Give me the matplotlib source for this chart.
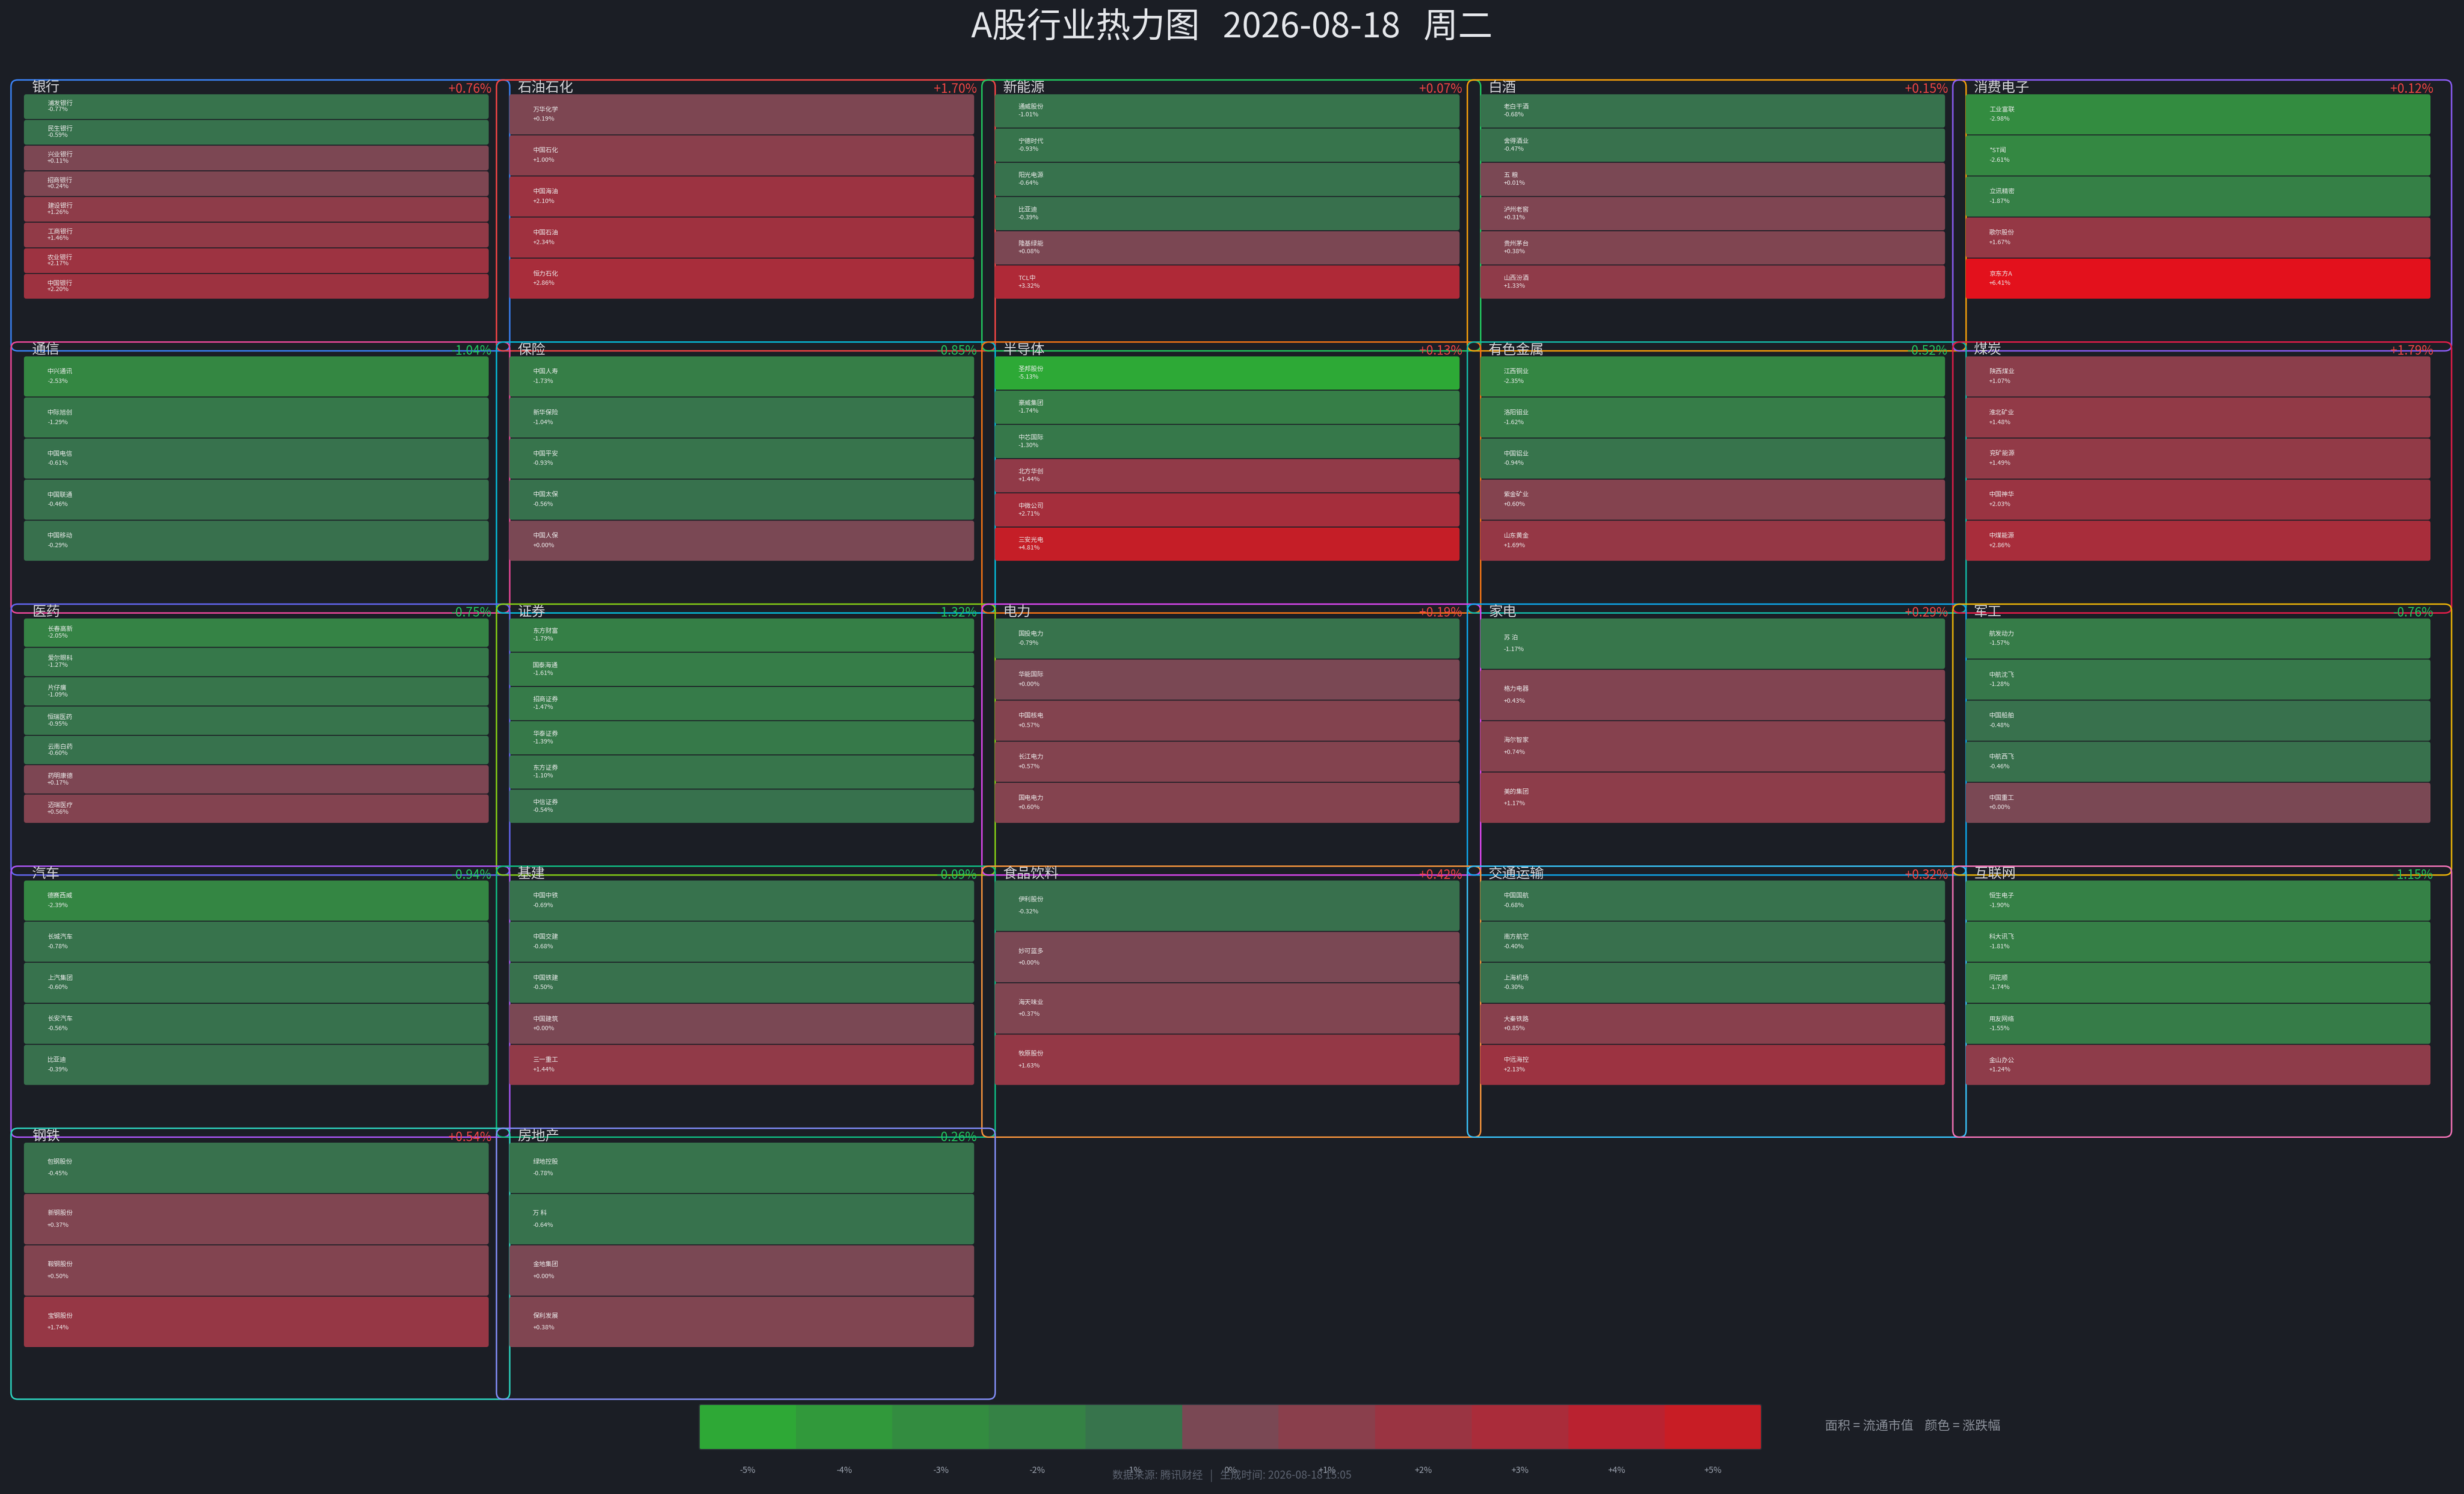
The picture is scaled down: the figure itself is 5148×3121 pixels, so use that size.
import numpy as np
import matplotlib
matplotlib.use('Agg')
import matplotlib.pyplot as plt
import matplotlib.colors as mcolors
from matplotlib.patches import FancyBboxPatch, Rectangle

plt.rcParams['font.family'] = ['Noto Sans CJK SC', 'DejaVu Sans']

# ---- data ----
sectors = ['银行', '石油石化', '新能源', '白酒', '消费电子',
           '通信', '保险', '半导体', '有色金属', '煤炭',
           '医药', '证券', '电力', '家电', '军工',
           '汽车', '基建', '食品饮料', '交通运输', '互联网',
           '钢铁', '房地产']

bank = ['浦发银行', '民生银行', '兴业银行', '招商银行', '建设银行', '工商银行', '农业银行', '中国银行']
bank_pct = [-0.77, -0.59, 0.11, 0.24, 1.26, 1.46, 2.17, 2.20]
oil = ['万华化学', '中国石化', '中国海油', '中国石油', '恒力石化']
oil_pct = [0.19, 1.00, 2.10, 2.34, 2.86]
energy = ['通威股份', '宁德时代', '阳光电源', '比亚迪', '隆基绿能', 'TCL中']
energy_pct = [-1.01, -0.93, -0.64, -0.39, 0.08, 3.32]
liquor = ['老白干酒', '舍得酒业', '五 粮', '泸州老窖', '贵州茅台', '山西汾酒']
liquor_pct = [-0.68, -0.47, 0.01, 0.31, 0.38, 1.33]
elec = ['工业富联', '*ST闻', '立讯精密', '歌尔股份', '京东方A']
elec_pct = [-2.98, -2.61, -1.87, 1.67, 6.41]
telecom = ['中兴通讯', '中际旭创', '中国电信', '中国联通', '中国移动']
telecom_pct = [-2.53, -1.29, -0.61, -0.46, -0.29]
insure = ['中国人寿', '新华保险', '中国平安', '中国太保', '中国人保']
insure_pct = [-1.73, -1.04, -0.93, -0.56, 0.00]
semi = ['圣邦股份', '豪威集团', '中芯国际', '北方华创', '中微公司', '三安光电']
semi_pct = [-5.13, -1.74, -1.30, 1.44, 2.71, 4.81]
metal = ['江西铜业', '洛阳钼业', '中国铝业', '紫金矿业', '山东黄金']
metal_pct = [-2.35, -1.62, -0.94, 0.60, 1.69]
coal = ['陕西煤业', '淮北矿业', '兖矿能源', '中国神华', '中煤能源']
coal_pct = [1.07, 1.48, 1.49, 2.03, 2.86]
pharma = ['长春高新', '爱尔眼科', '片仔癀', '恒瑞医药', '云南白药', '药明康德', '迈瑞医疗']
pharma_pct = [-2.05, -1.27, -1.09, -0.95, -0.60, 0.17, 0.56]
broker = ['东方财富', '国泰海通', '招商证券', '华泰证券', '东方证券', '中信证券']
broker_pct = [-1.79, -1.61, -1.47, -1.39, -1.10, -0.54]
power = ['国投电力', '华能国际', '中国核电', '长江电力', '国电电力']
power_pct = [-0.79, 0.00, 0.57, 0.57, 0.60]
appliance = ['苏 泊', '格力电器', '海尔智家', '美的集团']
appliance_pct = [-1.17, 0.43, 0.74, 1.17]
defense = ['航发动力', '中航沈飞', '中国船舶', '中航西飞', '中国重工']
defense_pct = [-1.57, -1.28, -0.48, -0.46, 0.00]
auto = ['德赛西威', '长城汽车', '上汽集团', '长安汽车', '比亚迪']
auto_pct = [-2.39, -0.78, -0.60, -0.56, -0.39]
infra = ['中国中铁', '中国交建', '中国铁建', '中国建筑', '三一重工']
infra_pct = [-0.69, -0.68, -0.50, 0.00, 1.44]
food = ['伊利股份', '妙可蓝多', '海天味业', '牧原股份']
food_pct = [-0.32, 0.00, 0.37, 1.63]
transport = ['中国国航', '南方航空', '上海机场', '大秦铁路', '中远海控']
transport_pct = [-0.68, -0.40, -0.30, 0.85, 2.13]
internet = ['恒生电子', '科大讯飞', '同花顺', '用友网络', '金山办公']
internet_pct = [-1.90, -1.81, -1.74, -1.55, 1.24]
steel = ['包钢股份', '新钢股份', '鞍钢股份', '宝钢股份']
steel_pct = [-0.45, 0.37, 0.50, 1.74]
estate = ['绿地控股', '万 科', '金地集团', '保利发展']
estate_pct = [-0.78, -0.64, 0.00, 0.38]

names = [bank, oil, energy, liquor, elec, telecom, insure, semi, metal, coal,
         pharma, broker, power, appliance, defense, auto, infra, food, transport,
         internet, steel, estate]
pcts = [bank_pct, oil_pct, energy_pct, liquor_pct, elec_pct, telecom_pct, insure_pct,
        semi_pct, metal_pct, coal_pct, pharma_pct, broker_pct, power_pct, appliance_pct,
        defense_pct, auto_pct, infra_pct, food_pct, transport_pct, internet_pct,
        steel_pct, estate_pct]

scale_ticks = [-5, -4, -3, -2, -1, 0, 1, 2, 3, 4, 5]

# ---- style ----
bg = '#1b1e25'
border_colors = ['#3b82f6', '#ef4444', '#22c55e', '#f59e0b', '#8b5cf6',
                 '#ec4899', '#06b6d4', '#f97316', '#14b8a6', '#e11d48',
                 '#6366f1', '#84cc16', '#d946ef', '#0ea5e9', '#eab308',
                 '#a855f7', '#10b981', '#fb923c', '#38bdf8', '#f472b6',
                 '#2dd4bf', '#818cf8']

neg_v = [-6, -5, -4, -3, -2, -1, 0]
neg_c = ['#2aae34', '#2ea836', '#31993b', '#338c40', '#358245', '#37744c', '#386e4e']
pos_v = [0, 1, 2, 3, 4, 5, 6.5]
pos_c = ['#7a4854', '#8a3f4c', '#9a3442', '#aa2c3a', '#ba2230', '#c81d25', '#e5101b']


def pct_color(p):
    v, c = (pos_v, pos_c) if p >= 0 else (neg_v, neg_c)
    rgb = np.array([mcolors.to_rgb(x) for x in c])
    return tuple(float(np.interp(p, v, rgb[:, k])) for k in range(3))


W, H = 5148, 3121
fig = plt.figure(figsize=(W / 100, H / 100), dpi=100, facecolor=bg)
ax = fig.add_axes([0, 0, 1, 1])
ax.set_xlim(0, W)
ax.set_ylim(H, 0)
ax.axis('off')
ax.set_facecolor(bg)

ax.text(W / 2, 58, 'A股行业热力图   2026-08-18   周二', ha='center', va='center',
        fontsize=52, color='#e5e7eb')

cell_w = 971
cells_h = 429
for i, sec in enumerate(sectors):
    r, c = divmod(i, 5)
    x = 50 + 1014.25 * c
    top = 167 + 547.5 * r
    ax.add_patch(FancyBboxPatch((x - 27, top), 1042, 566,
                                boxstyle='round,pad=0,rounding_size=14',
                                fc='none', ec=border_colors[i], lw=2.2, zorder=1))
    ax.text(x + 17, top + 17, sec, ha='left', va='center', fontsize=21,
            color='#d4d4d8', zorder=5)
    m = np.mean(pcts[i])
    ax.text(x + cell_w + 6, top + 19, f'{m:+.2f}%', ha='right', va='center',
            fontsize=19, color='#ef4444' if m >= 0 else '#22c55e', zorder=5)

    n = len(names[i])
    h = cells_h / n
    y0 = top + 29
    for j, (nm, p) in enumerate(zip(names[i], pcts[i])):
        y = y0 + j * h
        ax.add_patch(FancyBboxPatch((x, y + 1), cell_w, h - 2,
                                    boxstyle='round,pad=0,rounding_size=5',
                                    fc=pct_color(p), ec='none', zorder=2))
        cy = y + h / 2
        gap = 0.23 * h
        ax.text(x + 49, cy - gap / 2, nm, ha='left', va='center', fontsize=9.5,
                color='#eeeeee', zorder=3)
        ax.text(x + 49, cy + gap / 2, f'{p:+.2f}%', ha='left', va='center',
                fontsize=9.5, color='#eeeeee', zorder=3)

# colour scale
bx, by, bw, bh = 1461, 2934, 2219 / 11, 94
for k, v in enumerate(scale_ticks):
    ax.add_patch(Rectangle((bx + k * bw, by), bw, bh, fc=pct_color(v), ec='none', zorder=2))
    lab = '0%' if v == 0 else f'{v:+d}%'
    ax.text(bx + (k + 0.5) * bw, 3072, lab, ha='center', va='center',
            fontsize=13, color='#9ca3af')
ax.add_patch(FancyBboxPatch((bx, by), bw * 11, bh, boxstyle='round,pad=0,rounding_size=4',
                            fc='none', ec='#2c313a', lw=1.5, zorder=3))

ax.text(3813, 2980, '面积 = 流通市值    颜色 = 涨跌幅', ha='left', va='center',
        fontsize=19, color='#8b909a')
ax.text(W / 2, 3083, '数据来源: 腾讯财经   |   生成时间: 2026-08-18 15:05', ha='center',
        va='center', fontsize=16, color='#5c6370')

fig.savefig('out.png', dpi=100, facecolor=bg)
